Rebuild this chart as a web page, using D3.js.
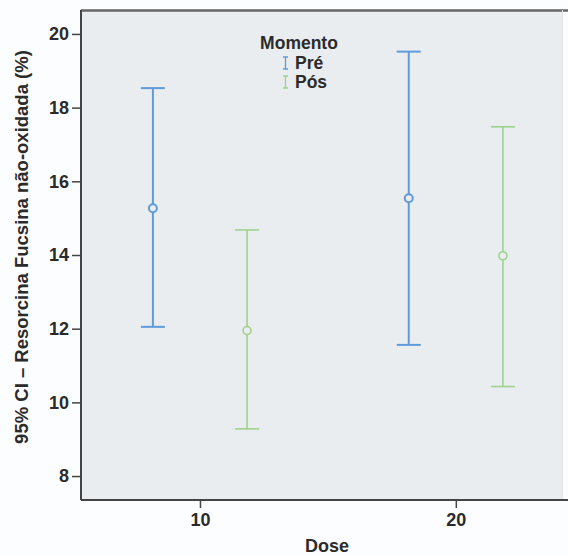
<!DOCTYPE html>
<html>
<head>
<meta charset="utf-8">
<script src="https://cdn.jsdelivr.net/npm/d3@7"></script>
<style>
  body { margin: 0; padding: 0; background: #fcfdfe; }
  text { font-family: "Liberation Sans", Arial, sans-serif; fill: #2b2b2b; font-weight: bold; }
</style>
</head>
<body>
<div id="chart"></div>
<script>
// doses and groups
var doses = [10, 20];
var groups = ["Pré", "Pós"];
var groupColors = ["#5f9bd8", "#9fd18c"];

// 95% CI per group, in dose order
var preMean = [15.27, 15.54];
var preLow  = [12.05, 11.56];
var preHigh = [18.53, 19.52];
var posMean = [11.95, 13.98];
var posLow  = [9.28, 10.43];
var posHigh = [14.68, 17.48];

var yTicks = [8, 10, 12, 14, 16, 18, 20];
var xTicks = [10, 20];

var W = 568, H = 556;
var m = { left: 81, top: 10, right: 6, bottom: 56 };

var svg = d3.select("#chart").append("svg")
  .attr("width", W).attr("height", H);

var x = d3.scaleLinear().domain([5.35, 24.15]).range([m.left, W - m.right]);
var y = d3.scaleLinear().domain([7.35, 20.65]).range([H - m.bottom, m.top]);
var offset = 1.84; // group dodge, in dose units

// plot background
svg.append("rect")
  .attr("x", m.left).attr("y", m.top)
  .attr("width", W - m.right - m.left).attr("height", H - m.bottom - m.top)
  .attr("fill", "#eaedf0");

// frame: top dark, right faint
svg.append("line")
  .attr("x1", m.left).attr("x2", W).attr("y1", m.top + 0.5).attr("y2", m.top + 0.5)
  .attr("stroke", "#666").attr("stroke-width", 2.5);
svg.append("line")
  .attr("x1", W - m.right + 0.5).attr("x2", W - m.right + 0.5).attr("y1", m.top).attr("y2", H - m.bottom)
  .attr("stroke", "#e2e4e6").attr("stroke-width", 1);

// rows for drawing
var rows = [];
doses.forEach(function(d, i) {
  rows.push({ dose: d, g: 0, mean: preMean[i], lo: preLow[i], hi: preHigh[i] });
  rows.push({ dose: d, g: 1, mean: posMean[i], lo: posLow[i], hi: posHigh[i] });
});
rows.forEach(function(r) { r.cx = x(r.dose + (r.g === 0 ? -offset : offset)); });

var bars = svg.append("g").selectAll("g").data(rows).enter().append("g")
  .attr("stroke", function(d) { return groupColors[d.g]; })
  .attr("fill", "none")
  .attr("stroke-width", function(d) { return d.g === 0 ? 2 : 1.6; });

bars.append("line")
  .attr("x1", function(d) { return d.cx; }).attr("x2", function(d) { return d.cx; })
  .attr("y1", function(d) { return y(d.hi); }).attr("y2", function(d) { return y(d.lo); });
bars.append("line")
  .attr("x1", function(d) { return d.cx - 12; }).attr("x2", function(d) { return d.cx + 12; })
  .attr("y1", function(d) { return y(d.hi); }).attr("y2", function(d) { return y(d.hi); });
bars.append("line")
  .attr("x1", function(d) { return d.cx - 12; }).attr("x2", function(d) { return d.cx + 12; })
  .attr("y1", function(d) { return y(d.lo); }).attr("y2", function(d) { return y(d.lo); });
bars.append("circle")
  .attr("cx", function(d) { return d.cx; }).attr("cy", function(d) { return y(d.mean); })
  .attr("r", 4).attr("fill", "#eaedf0");

// axes
var yAxis = svg.append("g").attr("transform", "translate(" + m.left + ",0)")
  .call(d3.axisLeft(y).tickValues(yTicks).tickSize(9).tickPadding(3).tickFormat(d3.format("d")));
var xAxis = svg.append("g").attr("transform", "translate(0," + (H - m.bottom) + ")")
  .call(d3.axisBottom(x).tickValues(xTicks).tickSize(8).tickPadding(5).tickFormat(d3.format("d")));

[yAxis, xAxis].forEach(function(a) {
  a.select(".domain").attr("stroke", "#444").attr("stroke-width", 2);
  a.selectAll(".tick line").attr("stroke", "#444").attr("stroke-width", 1.5);
  a.selectAll(".tick text").attr("font-size", 18).attr("fill", "#2b2b2b")
    .attr("font-family", "Liberation Sans, Arial, sans-serif");
});
yAxis.select(".domain").attr("d", "M0," + m.top + "V" + (H - m.bottom));
xAxis.select(".domain").attr("d", "M" + m.left + ",0H" + W);

// axis titles
svg.append("text")
  .attr("transform", "translate(28," + 247 + ") rotate(-90)")
  .attr("text-anchor", "middle").attr("font-size", 18.5)
  .text("95% CI – Resorcina Fucsina não-oxidada (%)");
svg.append("text")
  .attr("x", 327).attr("y", 552).attr("text-anchor", "middle").attr("font-size", 18)
  .text("Dose");

// legend
var leg = svg.append("g");
leg.append("text").attr("x", 299).attr("y", 49).attr("text-anchor", "middle")
  .attr("font-size", 17.5).text("Momento");
groups.forEach(function(g, i) {
  var yy = 69 + i * 19;
  leg.append("path")
    .attr("d", "M283," + (yy - 12) + "h5M285.5," + (yy - 12) + "v12M283," + yy + "h5")
    .attr("stroke", groupColors[i]).attr("stroke-width", 1.3).attr("fill", "none");
  leg.append("text").attr("x", 295).attr("y", yy).attr("font-size", 17.5).text(g);
});
</script>
</body>
</html>
